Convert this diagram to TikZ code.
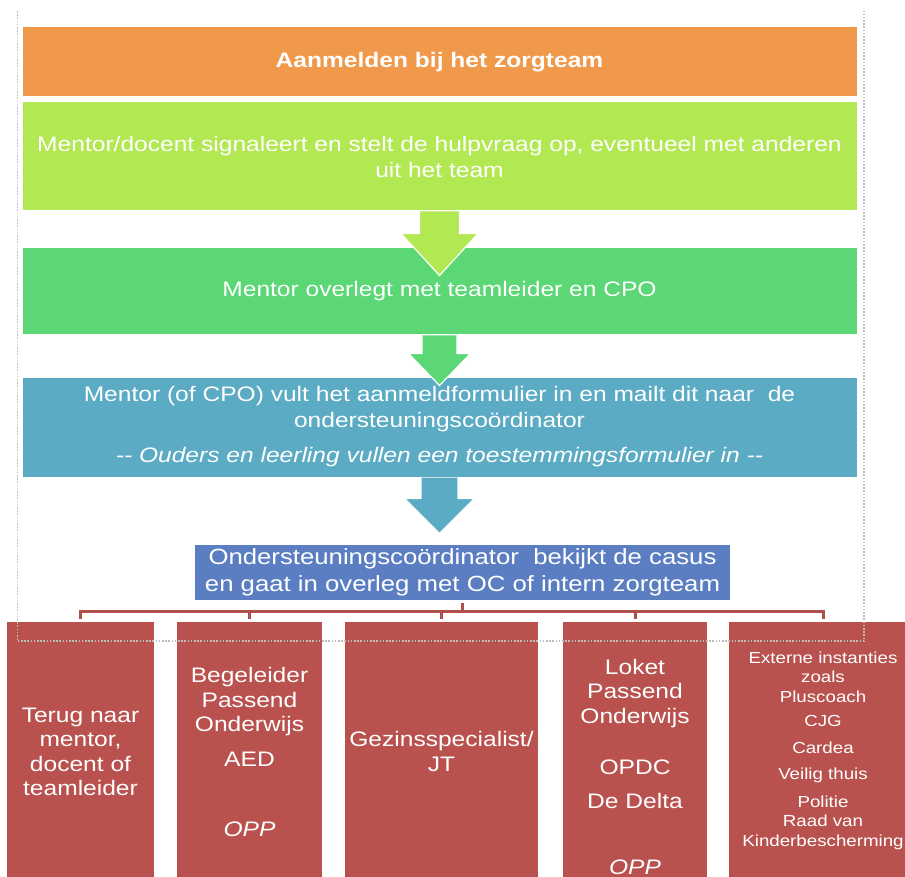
\documentclass[tikz,border=0pt]{standalone}
\usepackage{fontspec}
\setmainfont{Liberation Sans}[FakeStretch=1.17]
\usepackage{tikz}

\definecolor{stepOrange}{RGB}{240,153,75}
\definecolor{stepLime}{RGB}{178,232,82}
\definecolor{stepGreen}{RGB}{91,215,118}
\definecolor{stepBlue}{RGB}{91,171,196}
\definecolor{stepNavy}{RGB}{90,126,193}
\definecolor{caseRed}{RGB}{185,82,79}
\definecolor{frameGray}{RGB}{190,190,190}

% block arrow below a box: node, colour, stem half width, head half width, stem length, head length
\newcommand\flowarrow[6]{%
\fill[#2] (#1.south) ++(-#3,0) -- ++(0,#5) -- ++(#3-#4,0) -- ++(#4,#6) -- ++(#4,-#6) -- ++(#3-#4,0) -- ++(0,-#5) -- cycle;
\draw[arrowline] (#1.south) ++(-#3,0) -- ++(0,#5) -- ++(#3-#4,0) -- ++(#4,#6) -- ++(#4,-#6) -- ++(#3-#4,0) -- ++(0,-#5);
}

\begin{document}
\begin{tikzpicture}[x=1pt,y=-1pt,
  stepbox/.style={draw=white, line width=1pt, text=white, align=center, inner sep=0pt,
    font=\fontsize{21}{26}\selectfont},
  casebox/.style={fill=caseRed, minimum height=258, inner sep=0pt},
  casetext/.style={text=white, align=center, inner sep=0pt, font=\fontsize{21}{24.5}\selectfont},
  arrowline/.style={draw=white, line width=1.2pt, line join=miter},
  bracket/.style={draw=caseRed!95!black, line width=3pt, line cap=rect},
  frameline/.style={draw=frameGray, line width=1.6pt, dash pattern=on 1.6pt off 1.6pt}]
\useasboundingbox (0,0) rectangle (905,877);
\clip (0,0) rectangle (905,877);
\fill[white] (0,0) rectangle (905,877);

% steps
\node[stepbox, fill=stepOrange, minimum width=835, minimum height=70,
  font=\bfseries\fontsize{21}{26}\selectfont] (aanmelden) at (439.5,62) {Aanmelden bij het zorgteam};
\node[stepbox, fill=stepLime, minimum width=835, minimum height=109] (signaal) at (439.5,156.5)
  {Mentor/docent signaleert en stelt de hulpvraag op, eventueel met anderen\\uit het team};
\node[stepbox, fill=stepGreen, minimum width=835, minimum height=87] (overleg) at (439.5,291.5)
  {Mentor overlegt met teamleider en CPO};
\node[stepbox, fill=stepBlue, minimum width=835, minimum height=100] (formulier) at (439.5,427)
  {Mentor (of CPO) vult het aanmeldformulier in en mailt dit naar\ \ de\\ondersteuningsco\"ordinator\\[9pt]
   \itshape {-}{-} Ouders en leerling vullen een toestemmingsformulier in {-}{-}};
\node[stepbox, fill=stepNavy, minimum width=535, minimum height=55, draw=none,
  font=\fontsize{22}{27}\selectfont] (occ) at (462.5,572.5)
  {Ondersteuningsco\"ordinator\ \ bekijkt de casus\\en gaat in overleg met OC of intern zorgteam};

% arrows
\flowarrow{signaal}{stepLime}{20}{38.5}{22}{42}
\flowarrow{overleg}{stepGreen}{17.5}{31}{18}{32}
\flowarrow{formulier}{stepBlue}{18.5}{35}{21}{35}

% options
\node[casebox, minimum width=147] (r1) at (80.5,751) {};
\node[casebox, minimum width=145] (r2) at (249.5,751) {};
\node[casebox, minimum width=193] (r3) at (441.5,751) {};
\node[casebox, minimum width=144] (r4) at (635,751) {};
\node[casebox, minimum width=188] (r5) at (823,751) {};

\node[casetext] (t1) at (80.5,752) {Terug naar\\mentor,\\docent of\\teamleider};
\node[casetext] (t2) at (249.5,752) {Begeleider\\Passend\\Onderwijs\\[10pt]AED\\[46pt]\textit{OPP}};
\node[casetext] (t3) at (441.5,751.5) {Gezinsspecialist/\\JT};
\node[casetext] (t4) at (635,767) {Loket\\Passend\\Onderwijs\\[27pt]OPDC\\[9pt]De Delta\\[42pt]\textit{OPP}};
\node[casetext, font=\fontsize{16}{19.5}\selectfont] (t5) at (823,750.5)
  {Externe instanties\\zoals\\Pluscoach\\[5pt]CJG\\[7pt]Cardea\\[7pt]Veilig thuis\\[8pt]Politie\\Raad van\\Kinderbescherming};

% bracket
\coordinate (bar) at (462,611);
\draw[bracket] ([yshift=-4]occ.south) -- (occ.south |- bar);
\draw[bracket] (r1.north |- bar) -- (r5.north |- bar);
\foreach \n in {r1,r2,r3,r4,r5}
  \draw[bracket] (\n.north |- bar) -- ([yshift=4]\n.north);

% frame
\draw[frameline] (17.5,11) -- (17.5,641) -- (864,641) -- (864,11);
\end{tikzpicture}
\end{document}
